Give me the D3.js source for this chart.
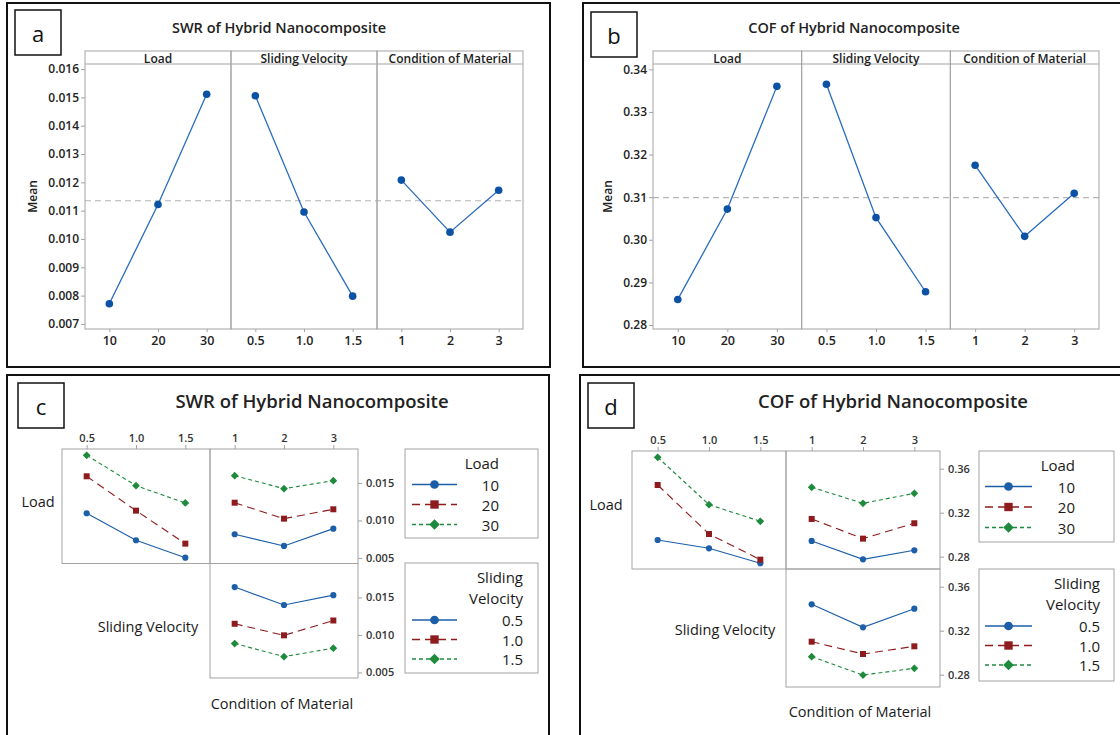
<!DOCTYPE html>
<html>
<head>
<meta charset="utf-8">
<script src="https://cdn.jsdelivr.net/npm/d3@7/dist/d3.min.js"></script>
<style>
  body { margin: 0; background: #fff; }
  svg { display: block; font-family: "Open Sans", "Noto Sans", sans-serif; }
</style>
</head>
<body>
<script>
// factors and levels
var factors = ["Load", "Sliding Velocity", "Condition of Material"];
var loadLevels = ["10", "20", "30"];
var velLevels = ["0.5", "1.0", "1.5"];
var condLevels = ["1", "2", "3"];

// main effects (means)
var swrLoad = [0.00771, 0.01122, 0.01511];
var swrVel = [0.01506, 0.01095, 0.00798];
var swrCond = [0.01208, 0.01024, 0.01172];
var swrGrand = 0.01135;
var cofLoad = [0.2860, 0.3072, 0.3360];
var cofVel = [0.3365, 0.3052, 0.2878];
var cofCond = [0.3175, 0.3008, 0.3109];
var cofGrand = 0.3099;

// interactions: one row per level of the first factor
var swrLoadByVel = [[0.01096, 0.00736, 0.00504], [0.01589, 0.01131, 0.00691], [0.01869, 0.01464, 0.01233]];
var swrLoadByCond = [[0.00816, 0.00660, 0.00891], [0.01237, 0.01024, 0.01149], [0.01597, 0.01424, 0.01531]];
var swrVelByCond = [[0.01639, 0.01400, 0.01531], [0.01149, 0.00995, 0.01193], [0.00886, 0.00711, 0.00824]];
var cofLoadByVel = [[0.2952, 0.2876, 0.2740], [0.3452, 0.3006, 0.2773], [0.3704, 0.3273, 0.3122]];
var cofLoadByCond = [[0.2943, 0.2776, 0.2858], [0.3143, 0.2964, 0.3104], [0.3431, 0.3285, 0.3376]];
var cofVelByCond = [[0.3440, 0.3231, 0.3400], [0.3100, 0.2988, 0.3058], [0.2964, 0.2797, 0.2858]];

// tick labels
var swrTicks = [0.007, 0.008, 0.009, 0.010, 0.011, 0.012, 0.013, 0.014, 0.015, 0.016];
var cofTicks = [0.28, 0.29, 0.30, 0.31, 0.32, 0.33, 0.34];
var swrIntTicks = [0.005, 0.010, 0.015];
var cofIntTicks = [0.28, 0.32, 0.36];

var width = 1120, height = 735;
var gridGray = "#a3a3a3", textCol = "#222";
// diamond = square turned 45 degrees (minitab style)
var styles = [
  {color: "#1c5ea8", dash: null, sym: d3.symbolCircle, rot: 0, size: 30, legSize: 60},
  {color: "#8e1b1e", dash: "8,5", sym: d3.symbolSquare, rot: 0, size: 36, legSize: 70},
  {color: "#1e8a3c", dash: "4,3", sym: d3.symbolSquare, rot: 45, size: 30, legSize: 56}
];

var svg = d3.select("body").append("svg")
    .attr("width", width)
    .attr("height", height);

function frame(x, y, w, h) {
  svg.append("rect")
      .attr("x", x).attr("y", y).attr("width", w).attr("height", h)
      .attr("fill", "none").attr("stroke", "#111").attr("stroke-width", 2);
}

function tag(letter, x, y) {
  svg.append("rect")
      .attr("x", x).attr("y", y).attr("width", 46).attr("height", 45)
      .attr("fill", "#fff").attr("stroke", "#111").attr("stroke-width", 1.5);
  svg.append("text")
      .attr("x", x + 23).attr("y", y + 23)
      .attr("text-anchor", "middle").attr("dominant-baseline", "central")
      .attr("font-size", 22).attr("fill", "#111")
      .text(letter);
}

function marker(sel, st, size) {
  sel.attr("d", d3.symbol().type(st.sym).size(size))
      .attr("fill", st.color);
}

function mainEffects(cfg) {
  frame(cfg.frame[0], cfg.frame[1], cfg.frame[2], cfg.frame[3]);
  tag(cfg.tag, cfg.tagPos[0], cfg.tagPos[1]);
  svg.append("text")
      .attr("x", cfg.titleX).attr("y", 33)
      .attr("text-anchor", "middle")
      .attr("font-size", 14.5).attr("font-weight", 600).attr("fill", textCol)
      .text(cfg.title);

  var g = svg.append("g");
  var fx = d3.scaleBand().domain(factors).range([cfg.left, cfg.right]);
  var y = d3.scaleLinear().domain(cfg.yDomain).range([cfg.bottom, cfg.header]);

  // y axis
  var ax = g.append("g")
      .attr("transform", "translate(" + cfg.left + ",0)")
      .call(d3.axisLeft(y).tickValues(cfg.ticks).tickFormat(d3.format(cfg.fmt)).tickSize(4).tickSizeOuter(0));
  ax.select(".domain").remove();
  ax.selectAll("line").attr("stroke", gridGray);
  ax.selectAll("text").attr("font-size", 12).attr("font-weight", 600).attr("fill", textCol)
      .attr("font-family", "Open Sans, sans-serif").attr("x", -6);

  svg.append("text")
      .attr("transform", "translate(" + cfg.meanX + "," + (cfg.header + cfg.bottom) / 2 + ") rotate(-90)")
      .attr("text-anchor", "middle").attr("dominant-baseline", "central")
      .attr("font-size", 12).attr("font-weight", 600).attr("fill", textCol)
      .text("Mean");

  // grand mean reference
  g.append("line")
      .attr("x1", cfg.left).attr("x2", cfg.right)
      .attr("y1", y(cfg.grand)).attr("y2", y(cfg.grand))
      .attr("stroke", "#b4b4b4").attr("stroke-width", 1.2).attr("stroke-dasharray", "6,4");

  cfg.series.forEach(function(vals, i) {
    var f = factors[i];
    var levels = cfg.levels[i];
    var x = d3.scalePoint().domain(levels).range([fx(f), fx(f) + fx.bandwidth()]).padding(0.5);
    var fg = g.append("g");
    fg.append("rect")
        .attr("x", fx(f)).attr("y", cfg.top)
        .attr("width", fx.bandwidth()).attr("height", cfg.bottom - cfg.top)
        .attr("fill", "none").attr("stroke", gridGray);
    fg.append("line")
        .attr("x1", fx(f)).attr("x2", fx(f) + fx.bandwidth())
        .attr("y1", cfg.header).attr("y2", cfg.header)
        .attr("stroke", gridGray);
    fg.append("text")
        .attr("x", fx(f) + fx.bandwidth() / 2).attr("y", (cfg.top + cfg.header) / 2 + 0.5)
        .attr("text-anchor", "middle").attr("dominant-baseline", "central")
        .attr("font-size", 12).attr("font-weight", 600).attr("fill", textCol)
        .text(f);

    var xa = fg.append("g")
        .attr("transform", "translate(0," + cfg.bottom + ")")
        .call(d3.axisBottom(x).tickSize(3).tickSizeOuter(0));
    xa.select(".domain").remove();
    xa.selectAll("line").attr("stroke", gridGray);
    xa.selectAll("text").attr("font-size", 12.5).attr("font-weight", 600).attr("fill", textCol)
        .attr("font-family", "Open Sans, sans-serif").attr("y", 7);

    var pts = levels.map(function(l, j) { return [x(l), y(vals[j])]; });
    fg.append("path")
        .attr("d", d3.line()(pts))
        .attr("fill", "none").attr("stroke", "#2a6cbd").attr("stroke-width", 1.3);
    fg.selectAll("circle").data(pts).enter().append("circle")
        .attr("cx", function(d) { return d[0]; })
        .attr("cy", function(d) { return d[1]; })
        .attr("r", 3.8).attr("fill", "#0b52a5");
  });
}

function interaction(cfg) {
  frame(cfg.frame[0], cfg.frame[1], cfg.frame[2], cfg.frame[3]);
  tag(cfg.tag, cfg.tagPos[0], cfg.tagPos[1]);
  svg.append("text")
      .attr("x", cfg.titleX).attr("y", 400)
      .attr("text-anchor", "middle").attr("dominant-baseline", "central")
      .attr("font-size", 18.5).attr("font-weight", 600).attr("fill", textCol)
      .text(cfg.title);

  var L = cfg.left, T = cfg.top, cw = cfg.cellW, ch = cfg.cellH;
  var colLevels = [velLevels, condLevels];
  var xs = colLevels.map(function(levels, c) {
    return d3.scalePoint().domain(levels).range([L + c * cw, L + (c + 1) * cw]).padding(0.5);
  });
  var ys = [0, 1].map(function(r) {
    return d3.scaleLinear().domain(cfg.yDomain).range([T + (r + 1) * ch, T + r * ch]);
  });

  var cells = [
    {row: 0, col: 0, series: cfg.loadByVel},
    {row: 0, col: 1, series: cfg.loadByCond},
    {row: 1, col: 1, series: cfg.velByCond}
  ];

  var g = svg.append("g");
  cells.forEach(function(cell) {
    var x = xs[cell.col], y = ys[cell.row];
    g.append("rect")
        .attr("x", L + cell.col * cw).attr("y", T + cell.row * ch)
        .attr("width", cw).attr("height", ch)
        .attr("fill", "none").attr("stroke", gridGray);
    cell.series.forEach(function(vals, i) {
      var st = styles[i];
      var pts = x.domain().map(function(l, j) { return [x(l), y(vals[j])]; });
      g.append("path")
          .attr("d", d3.line()(pts))
          .attr("fill", "none").attr("stroke", st.color).attr("stroke-width", 1.1)
          .attr("stroke-dasharray", st.dash);
      g.selectAll(null).data(pts).enter().append("path")
          .attr("transform", function(d) { return "translate(" + d[0] + "," + d[1] + ") rotate(" + st.rot + ")"; })
          .call(marker, st, st.size);
    });
  });

  // top axes
  xs.forEach(function(x) {
    var a = g.append("g")
        .attr("transform", "translate(0," + T + ")")
        .call(d3.axisTop(x).tickSize(4).tickSizeOuter(0));
    a.select(".domain").remove();
    a.selectAll("line").attr("stroke", gridGray);
    a.selectAll("text").attr("font-size", 11).attr("font-weight", 600).attr("fill", "#333")
        .attr("font-family", "Open Sans, sans-serif");
  });
  // right axes
  ys.forEach(function(y) {
    var a = g.append("g")
        .attr("transform", "translate(" + (L + 2 * cw) + ",0)")
        .call(d3.axisRight(y).tickValues(cfg.ticks).tickFormat(d3.format(cfg.fmt)).tickSize(4).tickSizeOuter(0));
    a.select(".domain").remove();
    a.selectAll("line").attr("stroke", gridGray);
    a.selectAll("text").attr("font-size", 11).attr("font-weight", 600).attr("fill", "#333")
        .attr("font-family", "Open Sans, sans-serif").attr("x", 8);
  });

  // factor labels
  var labels = [
    {text: "Load", x: cfg.loadLabel[0], y: cfg.loadLabel[1]},
    {text: "Sliding Velocity", x: cfg.velLabel[0], y: cfg.velLabel[1]},
    {text: "Condition of Material", x: cfg.condLabel[0], y: cfg.condLabel[1]}
  ];
  g.selectAll(".flab").data(labels).enter().append("text")
      .attr("x", function(d) { return d.x; })
      .attr("y", function(d) { return d.y; })
      .attr("text-anchor", "middle").attr("dominant-baseline", "central")
      .attr("font-size", 14.5).attr("fill", "#1a1a1a")
      .text(function(d) { return d.text; });

  legend(cfg.legends[0], ["Load"], loadLevels);
  legend(cfg.legends[1], ["Sliding", "Velocity"], velLevels);
}

function legend(box, titleLines, levels) {
  var g = svg.append("g").attr("transform", "translate(" + box.x + "," + box.y + ")");
  g.append("rect")
      .attr("width", box.w).attr("height", box.h)
      .attr("fill", "#fff").attr("stroke", gridGray);
  titleLines.forEach(function(t, k) {
    g.append("text")
        .attr("x", box.textRight).attr("y", 14 + k * 21)
        .attr("text-anchor", "end").attr("dominant-baseline", "central")
        .attr("font-size", 15).attr("fill", "#1a1a1a")
        .text(t);
  });
  var first = 14 + 21.5 * titleLines.length;
  levels.forEach(function(l, i) {
    var st = styles[i];
    var yy = first + i * box.step;
    var mx = (box.lineX[0] + box.lineX[1]) / 2;
    g.append("line")
        .attr("x1", box.lineX[0]).attr("x2", box.lineX[1])
        .attr("y1", yy).attr("y2", yy)
        .attr("stroke", st.color).attr("stroke-width", 1.3)
        .attr("stroke-dasharray", st.dash);
    g.append("path")
        .attr("transform", "translate(" + mx + "," + yy + ") rotate(" + st.rot + ")")
        .call(marker, st, st.legSize);
    g.append("text")
        .attr("x", box.textRight).attr("y", yy)
        .attr("text-anchor", "end").attr("dominant-baseline", "central")
        .attr("font-size", 15).attr("fill", "#1a1a1a")
        .text(l);
  });
}

mainEffects({
  tag: "a", tagPos: [15, 10], frame: [7, 3, 543, 364],
  title: "SWR of Hybrid Nanocomposite", titleX: 279,
  left: 85, right: 523, top: 51, header: 64, bottom: 329, meanX: 32,
  yDomain: [0.00682, 0.01618], ticks: swrTicks, fmt: ".3f",
  levels: [loadLevels, velLevels, condLevels],
  series: [swrLoad, swrVel, swrCond], grand: swrGrand
});

mainEffects({
  tag: "b", tagPos: [591, 12], frame: [583, 3, 545, 364],
  title: "COF of Hybrid Nanocomposite", titleX: 854,
  left: 653, right: 1099, top: 51, header: 64, bottom: 329, meanX: 607,
  yDomain: [0.27906, 0.34125], ticks: cofTicks, fmt: ".2f",
  levels: [loadLevels, velLevels, condLevels],
  series: [cofLoad, cofVel, cofCond], grand: cofGrand
});

interaction({
  tag: "c", tagPos: [18, 383], frame: [7, 375, 542, 370],
  title: "SWR of Hybrid Nanocomposite", titleX: 312,
  left: 62, top: 449, cellW: 148, cellH: 114.5,
  yDomain: [0.00426, 0.01953], ticks: swrIntTicks, fmt: ".3f",
  loadByVel: swrLoadByVel, loadByCond: swrLoadByCond, velByCond: swrVelByCond,
  loadLabel: [38, 501], velLabel: [148, 626], condLabel: [282, 703],
  legends: [
    {x: 405, y: 449, w: 133, h: 89, textRight: 94, lineX: [7, 52], step: 20},
    {x: 405, y: 563, w: 133, h: 110, textRight: 118, lineX: [7, 52], step: 19.5}
  ]
});

interaction({
  tag: "d", tagPos: [588, 383], frame: [580, 375, 550, 370],
  title: "COF of Hybrid Nanocomposite", titleX: 893,
  left: 632, top: 451, cellW: 154, cellH: 118,
  yDomain: [0.2688, 0.3761], ticks: cofIntTicks, fmt: ".2f",
  loadByVel: cofLoadByVel, loadByCond: cofLoadByCond, velByCond: cofVelByCond,
  loadLabel: [606, 504], velLabel: [725, 629], condLabel: [860, 711],
  legends: [
    {x: 979, y: 451, w: 135, h: 91, textRight: 96, lineX: [6, 53], step: 20.5},
    {x: 979, y: 569, w: 135, h: 112, textRight: 121, lineX: [6, 53], step: 19.5}
  ]
});
</script>
</body>
</html>
